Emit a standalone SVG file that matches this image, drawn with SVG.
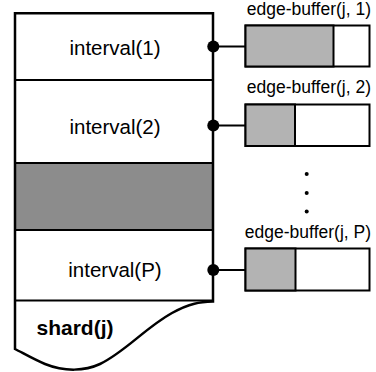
<svg xmlns="http://www.w3.org/2000/svg" width="376" height="372" viewBox="0 0 376 372">
  <style>
    .outline { fill: none; stroke: #000; stroke-width: 2.5; }
    .divider { fill: none; stroke: #000; stroke-width: 2; }
    .label { font-family: "Liberation Sans", Arial, sans-serif; font-size: 20.5px; fill: #000; text-anchor: middle; }
    .buf-label { font-family: "Liberation Sans", Arial, sans-serif; font-size: 17.5px; fill: #000; text-anchor: end; }
    .title { font-family: "Liberation Sans", Arial, sans-serif; font-size: 21px; font-weight: bold; fill: #000; }
    .buf { fill: #fff; stroke: #000; stroke-width: 2; }
    .used { fill: #b3b3b3; stroke: #000; stroke-width: 2; }
    .wire { stroke: #000; stroke-width: 2.2; }
    .joint { fill: #000; }
    .ellipsis { fill: #000; }
  </style>

  <!-- shard body -->
  <g id="shard">
    <rect x="15" y="163" width="198" height="67" fill="#8c8c8c" stroke="none"/>
    <line class="divider" x1="15" y1="80" x2="213" y2="80"/>
    <line class="divider" x1="15" y1="163" x2="213" y2="163"/>
    <line class="divider" x1="15" y1="230" x2="213" y2="230"/>
    <line class="divider" x1="15" y1="300.5" x2="213" y2="300.5"/>
    <path class="outline" d="M15 349 L15 13.3 L213 13.3 L213 301.5 C200 302 190 303 172 313 C145 328 125 352 100 364 C85 371 65 372 45 364 C33 359 23 353 15 349 Z"/>
    <text class="title" x="36.5" y="335">shard(j)</text>
  </g>

  <g id="interval-1"><text class="label" x="115" y="55">interval(1)</text></g>
  <g id="interval-2"><text class="label" x="115" y="134">interval(2)</text></g>
  <g id="interval-P"><text class="label" x="115" y="277">interval(P)</text></g>

  <!-- edge buffers -->
  <g id="edge-buffer-1">
    <text class="buf-label" x="371" y="14.5">edge-buffer(j, 1)</text>
    <rect class="buf" x="245.5" y="25.5" width="124" height="41"/>
    <rect class="used" x="245.5" y="25.5" width="88" height="41"/>
  </g>
  <g id="edge-buffer-2">
    <text class="buf-label" x="371" y="93">edge-buffer(j, 2)</text>
    <rect class="buf" x="245.5" y="104.5" width="124" height="41.5"/>
    <rect class="used" x="245.5" y="104.5" width="49.5" height="41.5"/>
  </g>
  <g id="edge-buffer-P">
    <text class="buf-label" x="371" y="238">edge-buffer(j, P)</text>
    <rect class="buf" x="245.5" y="248.5" width="124" height="42"/>
    <rect class="used" x="245.5" y="248.5" width="50" height="42"/>
  </g>

  <g id="ellipsis">
    <circle class="ellipsis" cx="306.7" cy="174" r="2"/>
    <circle class="ellipsis" cx="306.7" cy="193" r="2"/>
    <circle class="ellipsis" cx="306.7" cy="211.5" r="2"/>
  </g>

  <!-- connectors -->
  <g id="connectors">
    <line class="wire" x1="213" y1="46.5" x2="245.5" y2="46.5"/>
    <line class="wire" x1="213" y1="125.5" x2="245.5" y2="125.5"/>
    <line class="wire" x1="213" y1="270" x2="245.5" y2="270"/>
    <circle class="joint" cx="213.3" cy="46.5" r="6"/>
    <circle class="joint" cx="213.3" cy="125.5" r="6"/>
    <circle class="joint" cx="213.3" cy="270" r="6"/>
  </g>
</svg>
